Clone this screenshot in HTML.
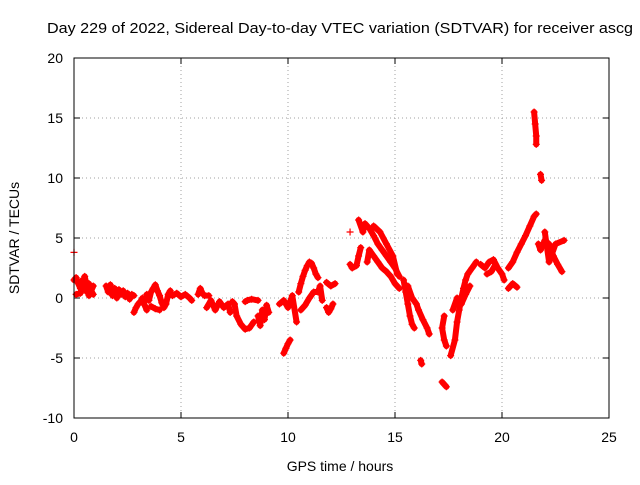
<!DOCTYPE html>
<html><head><meta charset="utf-8"><style>
body{margin:0;background:#fff}
svg text{font-family:"Liberation Sans",sans-serif;font-size:14px;fill:#000}
</style></head><body>
<svg id="c" width="640" height="480" xmlns="http://www.w3.org/2000/svg">
<rect width="640" height="480" fill="#fff"/>
<text x="47" y="33" textLength="586" lengthAdjust="spacingAndGlyphs" style="font-size:15px">Day 229 of 2022, Sidereal Day-to-day VTEC variation (SDTVAR) for receiver ascg</text>
<text x="340" y="471" text-anchor="middle">GPS time / hours</text>
<text transform="translate(19,238) rotate(-90)" text-anchor="middle">SDTVAR / TECUs</text>
<g id="grid"></g><g id="marks"></g>
<rect x="74" y="58" width="535" height="360" fill="none" stroke="#000"/>
</svg>
<script>
const xTicks=[0,5,10,15,20,25];
const yTicks=[-10,-5,0,5,10,15,20];
const tracks=[
[[0,3.8]],
[[0.0,1.5],[0.1,1.7],[0.2,1.2],[0.3,0.8],[0.4,1.5],[0.5,1.0],[0.6,0.5],[0.7,1.2],[0.8,0.6],[0.9,0.3]],
[[0.1,0.3],[0.3,0.4],[0.5,1.8],[0.7,0.2],[0.9,1.0]],
[[1.5,1.0],[1.6,0.5],[1.7,1.1],[1.8,0.2],[1.9,0.8],[2.0,0.0],[2.1,0.7],[2.2,0.3],[2.3,0.6],[2.4,0.1],[2.5,0.4],[2.6,-0.1],[2.7,0.3],[2.8,0.2]],
[[2.8,-1.2],[2.9,-0.8],[3.0,-0.5],[3.1,-0.3],[3.2,0.0],[3.3,-0.6],[3.4,-1.0]],
[[3.4,0.3],[3.5,-0.2],[3.6,0.5],[3.7,0.8],[3.8,1.1],[3.9,0.6],[4.0,0.2],[4.1,-0.4],[4.2,-0.8],[4.3,-0.5],[4.4,0.3],[4.5,0.6]],
[[3.6,-0.7],[3.8,-0.9],[4.0,-1.0]],
[[4.6,0.2],[4.8,0.4],[5.0,0.1],[5.2,0.3],[5.4,0.0],[5.5,-0.2]],
[[5.8,0.3],[5.9,0.8],[6.0,0.4],[6.1,0.2],[6.3,0.2]],
[[6.2,-0.8],[6.4,-0.2],[6.5,-0.6],[6.6,-1.0],[6.8,-0.3],[7.0,-0.8],[7.2,-0.5],[7.3,-1.2]],
[[7.4,-0.3],[7.5,-0.5],[7.6,-1.5],[7.8,-2.2],[8.0,-2.6],[8.2,-2.5],[8.4,-2.0]],
[[8.0,-0.3],[8.1,-0.2],[8.3,-0.1],[8.6,-0.2]],
[[8.6,-1.5],[8.7,-2.3],[8.8,-1.0],[8.9,-1.8],[9.0,-0.6],[9.1,-1.2]],
[[9.6,-0.5],[9.8,-0.2],[10.0,-0.8],[10.2,0.2],[10.4,-2.0]],
[[9.8,-4.6],[9.9,-4.2],[10.0,-3.8],[10.1,-3.5]],
[[10.5,0.5],[10.6,1.2],[10.7,1.8],[10.8,2.3],[10.9,2.7],[11.0,3.0],[11.1,2.9],[11.2,2.5],[11.3,2.0],[11.4,1.7]],
[[10.6,-1.0],[10.8,-0.6],[11.0,0.0],[11.2,0.5],[11.4,0.5],[11.5,1.0],[11.6,-0.2]],
[[11.8,-0.8],[11.9,-1.2],[12.0,-0.9],[12.1,-0.5]],
[[11.8,1.3],[12.0,1.0],[12.2,1.2]],
[[12.9,5.5]],
[[12.9,2.8],[13.0,2.5],[13.2,2.7],[13.3,3.5],[13.4,4.2]],
[[13.3,6.5],[13.5,5.5],[13.6,6.2],[13.8,5.8],[14.0,5.2],[14.2,4.5],[14.4,4.0],[14.6,3.5],[14.8,3.0],[15.0,2.5],[15.2,1.8]],
[[13.7,3.0],[13.8,4.0],[14.0,3.5],[14.2,3.0],[14.4,2.5],[14.6,2.2],[14.8,1.8],[15.0,1.2],[15.2,0.8]],
[[14.0,6.0],[14.3,5.5],[14.6,4.5],[14.9,3.5],[15.1,2.0]],
[[15.4,1.5],[15.5,0.5],[15.6,-0.5],[15.7,-1.5],[15.8,-2.2],[15.9,-2.5]],
[[15.6,1.0],[15.8,0.0],[16.0,-0.5],[16.1,-1.0],[16.3,-1.8],[16.5,-2.5],[16.6,-3.0]],
[[16.2,-5.2],[16.25,-5.5]],
[[17.3,-1.5],[17.2,-2.5],[17.3,-3.5],[17.4,-4.0]],
[[17.2,-7.0],[17.4,-7.4]],
[[17.6,-4.8],[17.8,-3.5],[17.9,-2.0],[18.0,-1.0],[18.1,0.0],[18.2,0.8],[18.3,1.5],[18.4,2.0],[18.6,2.5],[18.8,3.0]],
[[17.7,-1.0],[17.9,0.0],[18.1,-0.5],[18.3,0.3],[18.5,1.0]],
[[19.0,2.8],[19.2,2.5],[19.4,3.0],[19.6,3.2],[19.8,2.5],[20.0,2.0],[20.1,1.5]],
[[19.3,2.0],[19.5,2.2],[19.7,2.8]],
[[20.3,0.8],[20.5,1.2],[20.7,0.9]],
[[20.3,2.5],[20.5,3.0],[20.7,3.8],[20.9,4.5],[21.1,5.2],[21.3,6.0],[21.5,6.8],[21.6,7.0]],
[[21.5,15.5],[21.55,14.5],[21.6,13.5],[21.6,12.8]],
[[21.8,10.3],[21.85,9.8]],
[[21.7,4.5],[21.8,4.0],[22.0,4.8],[22.2,4.5],[22.4,3.5],[22.6,2.8],[22.8,2.2]],
[[22.0,5.5],[22.2,3.0],[22.5,4.5],[22.9,4.8]]
];
const NS="http://www.w3.org/2000/svg";
const X=v=>74+(v-0)/25*535, Y=v=>418-(v+10)/30*360;
const svg=document.getElementById('c'),grid=document.getElementById('grid'),marks=document.getElementById('marks');
function mk(tag,attrs,parent){const e=document.createElementNS(NS,tag);for(const k in attrs)e.setAttribute(k,attrs[k]);parent.appendChild(e);return e;}
xTicks.forEach(t=>{
 const g=mk('line',{x1:X(t),x2:X(t),y1:58,y2:418,stroke:'#a0a0a0','stroke-dasharray':'1,3'},grid);
 
 
 mk('line',{x1:X(t),x2:X(t),y1:418,y2:412,stroke:'#000'},grid);
 mk('line',{x1:X(t),x2:X(t),y1:58,y2:64,stroke:'#000'},grid);
 const l=mk('text',{x:X(t),y:442,'text-anchor':'middle'},svg);l.textContent=t;
 
 
});
yTicks.forEach(t=>{
 const g=mk('line',{x1:74,x2:609,y1:Y(t),y2:Y(t),stroke:'#a0a0a0','stroke-dasharray':'1,3'},grid);
 
 
 mk('line',{x1:74,x2:80,y1:Y(t),y2:Y(t),stroke:'#000'},grid);
 mk('line',{x1:609,x2:603,y1:Y(t),y2:Y(t),stroke:'#000'},grid);
 const l=mk('text',{x:63,y:Y(t)+5,'text-anchor':'end'},svg);l.textContent=t;
 
 
});
tracks.forEach(tr=>{
 if(tr.length>1){
  const p=mk('polyline',{points:tr.map(d=>X(d[0])+','+Y(d[1])).join(' '),fill:'none',stroke:'#f00','stroke-width':6,'stroke-linejoin':'round','stroke-linecap':'round'},marks);
  
  
 }
 tr.forEach(d=>{
  const x=X(d[0]),y=Y(d[1]);
  const m=mk('path',{d:`M${x-3.5},${y}H${x+3.5}M${x},${y-3.5}V${y+3.5}`,stroke:'#f00','stroke-width':1.2},marks);
  
  
 });
});
</script>
</body></html>
